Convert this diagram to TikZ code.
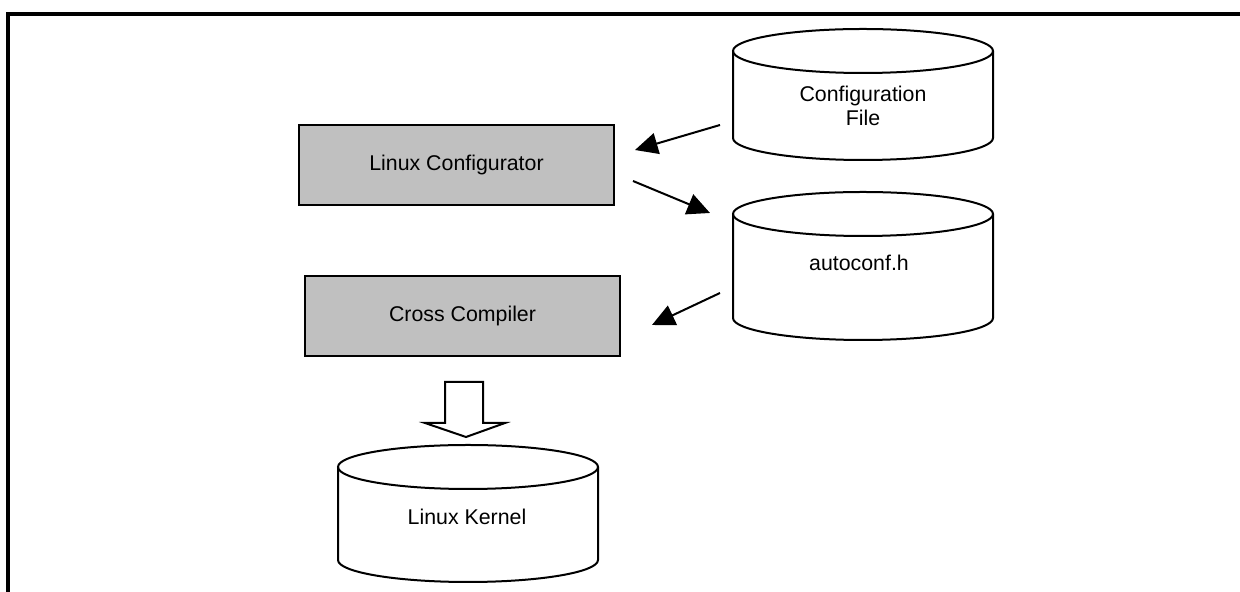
\documentclass[tikz,border=0pt]{standalone}
\usepackage{fontspec}
\setmainfont{Liberation Sans}
\usetikzlibrary{arrows.meta}
\definecolor{boxgray}{HTML}{C0C0C0}
\tikzset{
  procbox/.style={draw=black, line width=1.5pt, fill=boxgray, minimum width=315*0.75pt, minimum height=80*0.75pt, inner sep=0pt, font=\fontsize{16}{17.5}\selectfont},
  cyltext/.style={align=center, inner sep=0pt, font=\fontsize{16}{17.5}\selectfont},
  cylline/.style={line width=1.5pt},
  flow/.style={line width=1.5pt, -{Triangle[length=17pt,width=16pt]}},
  blockarrow/.style={line width=1.5pt, fill=white, line join=miter}
}
\newcommand{\mycyl}[4]{% cx, ytop, ybottom, rx
  \draw[cylline] (#1-#4,#2) -- (#1-#4,#3) arc[start angle=180, end angle=360, x radius=#4, y radius=22] -- (#1+#4,#2);
  \draw[cylline] (#1,#2) ellipse [x radius=#4, y radius=22];
}
\begin{document}
\begin{tikzpicture}[x=0.75pt,y=0.75pt]
\useasboundingbox (0,0) rectangle (1240,592);
% outer frame
\draw[line width=3pt] (7.5,0) -- (7.5,578) -- (1240,578);
% process boxes
\node[procbox] (conf) at (456.5,427) {Linux Configurator};
\node[procbox] (cc) at (462.5,276) {Cross Compiler};
% cylinders
\mycyl{863}{541}{454}{130}
\node[cyltext] (cfile) at (863,486) {Configuration\\File};
\mycyl{863}{378}{274}{130}
\node[cyltext] (autoconf) at (859,329) {autoconf.h};
\mycyl{468}{125}{32}{130}
\node[cyltext] (kernel) at (467,75) {Linux Kernel};
% connector end points
\coordinate (cfout) at (720,467);
\coordinate (confin) at (635,442);
\coordinate (confout) at (633,411);
\coordinate (acin) at (710,379);
\coordinate (acout) at (720,299);
\coordinate (ccin) at (652,267);
\draw[flow] (cfout) -- (confin);
\draw[flow] (confout) -- (acin);
\draw[flow] (acout) -- (ccin);
% block arrow
\draw[blockarrow] (445,210) -- (483,210) -- (483,169) -- (505,169) -- (466,155) -- (425,169) -- (445,169) -- cycle;
\end{tikzpicture}
\end{document}
